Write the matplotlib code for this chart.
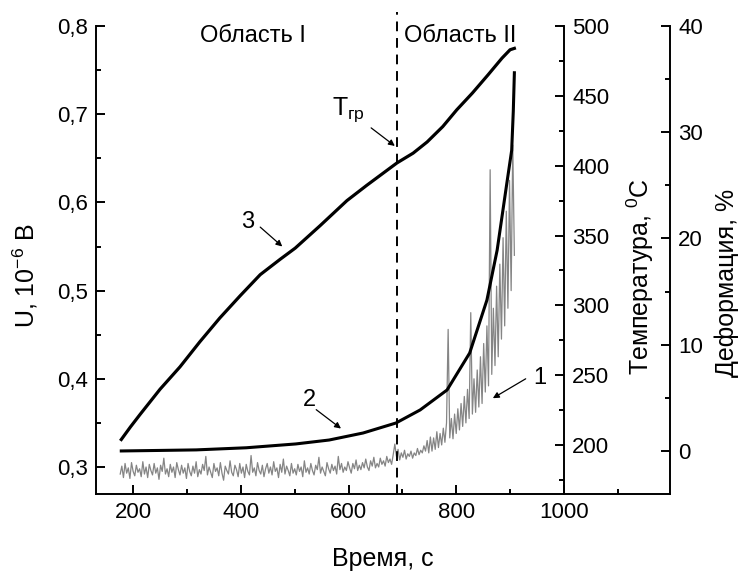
import numpy as np
import matplotlib
import matplotlib.pyplot as plt
from matplotlib.ticker import MultipleLocator, FuncFormatter

plt.rcParams.update({
    'font.family': ['Liberation Sans', 'DejaVu Sans'],
    'font.size': 16,
    'mathtext.fontset': 'custom',
    'mathtext.rm': 'Liberation Sans',
    'mathtext.it': 'Liberation Sans',
    'mathtext.default': 'regular',
})

# curve 3: temperature, C
temp_t = [178, 195, 213, 250, 287, 324, 361, 399, 436, 473, 501, 547,
          597, 634, 690, 720, 746, 775, 801, 830, 859, 885, 900, 908]
temp = [204, 213, 222, 240, 256, 274, 291, 307, 322, 333, 341, 357,
        375, 386, 402, 409, 417, 428, 440, 452, 465, 477, 483, 484]

# curve 2: deformation, %
def_t = [178, 250, 317, 410, 502, 564, 627, 688, 733, 783, 825, 857,
         876, 894, 903, 906, 908]
deform = [0.0, 0.05, 0.1, 0.3, 0.66, 1.03, 1.69, 2.63, 3.86, 5.74, 9.22,
          14.2, 18.9, 25.2, 28.3, 32.0, 35.6]

# curve 1: signal U, 10^-6 V, sampled every 3 s from 176 s
sig_t = np.arange(176, 909, 3)
sig = [
    0.292, 0.301, 0.288, 0.304, 0.293, 0.299, 0.287, 0.305, 0.295, 0.290,
    0.302, 0.294, 0.298, 0.289, 0.306, 0.292, 0.300, 0.288, 0.303, 0.296,
    0.291, 0.304, 0.293, 0.299, 0.286, 0.302, 0.295, 0.310, 0.292, 0.298,
    0.289, 0.303, 0.294, 0.300, 0.288, 0.305, 0.297, 0.291, 0.302, 0.293,
    0.299, 0.287, 0.304, 0.295, 0.290, 0.301, 0.293, 0.306, 0.289, 0.297,
    0.292, 0.303, 0.296, 0.312, 0.291, 0.300, 0.294, 0.288, 0.304, 0.295,
    0.299, 0.290, 0.305, 0.293, 0.285, 0.301, 0.296, 0.292, 0.307, 0.294,
    0.290, 0.302, 0.297, 0.289, 0.304, 0.293, 0.300, 0.288, 0.303, 0.295,
    0.291, 0.313, 0.294, 0.299, 0.290, 0.305, 0.296, 0.292, 0.302, 0.289,
    0.298, 0.304, 0.293, 0.300, 0.291, 0.306, 0.295, 0.299, 0.288, 0.303,
    0.294, 0.309, 0.292, 0.301, 0.296, 0.290, 0.304, 0.293, 0.298, 0.291,
    0.303, 0.295, 0.300, 0.289, 0.307, 0.294, 0.299, 0.292, 0.304, 0.296,
    0.291, 0.302, 0.297, 0.311, 0.293, 0.300, 0.295, 0.290, 0.305, 0.298,
    0.293, 0.303, 0.296, 0.301, 0.292, 0.312, 0.297, 0.304, 0.294, 0.300,
    0.296, 0.306, 0.299, 0.293, 0.304, 0.298, 0.308, 0.296, 0.302, 0.297,
    0.305, 0.299, 0.309, 0.300, 0.296, 0.307, 0.301, 0.311, 0.299, 0.304,
    0.300, 0.310, 0.303, 0.307, 0.301, 0.312, 0.305, 0.309, 0.303, 0.314,
    0.326, 0.312, 0.320, 0.308, 0.316, 0.311, 0.319, 0.309, 0.315, 0.312,
    0.318, 0.310, 0.316, 0.313, 0.321, 0.314, 0.319, 0.316, 0.324, 0.318,
    0.330, 0.316, 0.334, 0.318, 0.333, 0.320, 0.340, 0.322, 0.338, 0.325,
    0.344, 0.328, 0.350, 0.456, 0.333, 0.355, 0.332, 0.360, 0.338, 0.366,
    0.342, 0.372, 0.346, 0.380, 0.350, 0.388, 0.355, 0.475, 0.360, 0.400,
    0.362, 0.410, 0.368, 0.425, 0.372, 0.440, 0.385, 0.460, 0.392, 0.637,
    0.405, 0.480, 0.415, 0.505, 0.425, 0.530, 0.445, 0.560, 0.460, 0.590,
    0.480, 0.625, 0.500, 0.665, 0.540,
]

t_gr = 690

fig = plt.figure(figsize=(7.4, 5.73), dpi=100)
ax = fig.add_axes([0.1297, 0.1379, 0.7757, 0.8167])
ax_t = ax.twinx()
ax_d = ax.twinx()

ax.plot(sig_t, sig, color='#858585', lw=0.9)
ax_t.plot(temp_t, temp, color='black', lw=2.3)
ax_d.plot(def_t, deform, color='black', lw=2.2)

ax.axvline(t_gr, ymin=0, ymax=1.03, color='black', lw=1.4,
           dashes=(5, 3.5), clip_on=False)

ax.set_xlim(131, 1197)
ax.set_ylim(0.2694, 0.8)
ax_t.set_ylim(165, 500)
ax_d.set_ylim(-4.05, 40)

ax.set_xticks([200, 400, 600, 800, 1000])
ax.set_xticks([300, 500, 700, 900, 1100], minor=True)
ax.yaxis.set_major_locator(MultipleLocator(0.1))
ax.yaxis.set_minor_locator(MultipleLocator(0.05))
ax.yaxis.set_major_formatter(FuncFormatter(lambda v, p: ('%.1f' % v).replace('.', ',')))
ax_t.yaxis.set_major_locator(MultipleLocator(50))
ax_t.yaxis.set_minor_locator(MultipleLocator(25))
ax_d.yaxis.set_major_locator(MultipleLocator(10))
ax_d.yaxis.set_minor_locator(MultipleLocator(5))

# spines
for a in (ax, ax_t, ax_d):
    for s in a.spines.values():
        s.set_linewidth(1.4)
ax.spines['top'].set_visible(False)
ax.spines['right'].set_visible(False)
for a in (ax_t, ax_d):
    a.spines['top'].set_visible(False)
    a.spines['left'].set_visible(False)
    a.spines['bottom'].set_visible(False)
ax_t.spines['right'].set_position(('data', 1000))

for a in (ax, ax_t, ax_d):
    a.tick_params(which='major', direction='in', length=6.5, width=1.4,
                  labelsize=16, pad=6)
    a.tick_params(which='minor', direction='in', length=3.6, width=1.4)
ax.tick_params(which='both', top=False, right=False)

ax.set_xlabel('Время, с', fontsize=18)
ax.xaxis.set_label_coords(0.5, -0.114)
ax.set_ylabel('U, 10$^{-6}$ В', fontsize=18)
ax.yaxis.set_label_coords(-0.098, 0.466)
ax_t.set_ylabel('Температура, $^{0}$C', fontsize=18)
ax_t.yaxis.set_label_coords(0.9216, 0.4637)
ax_d.set_ylabel('Деформация, %', fontsize=18)
ax_d.yaxis.set_label_coords(1.078, 0.45)

ax.text(423, 0.789, 'Область I', ha='center', va='center', fontsize=17)
ax.text(703, 0.789, 'Область II', ha='left', va='center', fontsize=17)

arrow = dict(arrowstyle='-|>', color='black', lw=0.9, mutation_scale=9,
             shrinkA=0, shrinkB=0)
ax.text(955, 0.401, '1', ha='center', va='center', fontsize=17)
ax.annotate('', xy=(868, 0.378), xytext=(929, 0.400), arrowprops=arrow)
ax.text(527, 0.3765, '2', ha='center', va='center', fontsize=17)
ax.annotate('', xy=(586, 0.3436), xytext=(540, 0.365), arrowprops=arrow)
ax.text(413, 0.578, '3', ha='center', va='center', fontsize=17)
ax.annotate('', xy=(477, 0.550), xytext=(436, 0.572), arrowprops=arrow)
ax.text(600, 0.705, 'T$_{гр}$', ha='center', va='center', fontsize=18)
ax.annotate('', xy=(686, 0.664), xytext=(642, 0.6845), arrowprops=arrow)

plt.savefig('out.png', dpi=100)
